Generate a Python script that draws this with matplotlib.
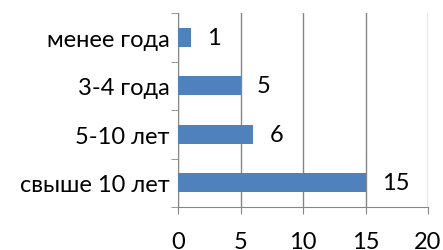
import matplotlib.pyplot as plt
import numpy as np

# Data
categories = ["свыше 10 лет", "5-10 лет", "3-4 года", "менее года"]
values = [15, 6, 5, 1]
x_ticks = [0, 5, 10, 15, 20]

plt.rcParams['font.family'] = ['Lato', 'DejaVu Sans']

fig = plt.figure(figsize=(4.43, 2.51), dpi=100)
ax = fig.add_axes([178 / 443, 1 - 208 / 251, 250 / 443, 194 / 251])

pos = np.arange(len(categories))
ax.barh(pos, values, height=0.4, color="#4f81bd", zorder=3)

for p, v in zip(pos, values):
    ax.annotate(str(v), (v, p), xytext=(12, 0), textcoords="offset points",
                va="center", ha="left", fontsize=17, color="black")

ax.set_xlim(0, 20)
ax.set_ylim(-0.5, len(categories) - 0.5)
ax.set_xticks(x_ticks)
ax.set_xticklabels([str(t) for t in x_ticks], fontsize=17)
ax.set_yticks(pos)
ax.set_yticklabels(categories, fontsize=17)
ax.set_yticks(np.arange(-0.5, len(categories)), minor=True)

ax.grid(axis="x", color="#868686", linewidth=1, zorder=0)
for side in ["top", "right"]:
    ax.spines[side].set_visible(False)
for side in ["left", "bottom"]:
    ax.spines[side].set_color("#868686")

ax.tick_params(axis="y", which="major", length=0, pad=6)
ax.tick_params(axis="y", which="minor", length=5, color="#868686")
ax.tick_params(axis="x", length=5, color="#868686", pad=12)

fig.savefig("out.png", dpi=100)
